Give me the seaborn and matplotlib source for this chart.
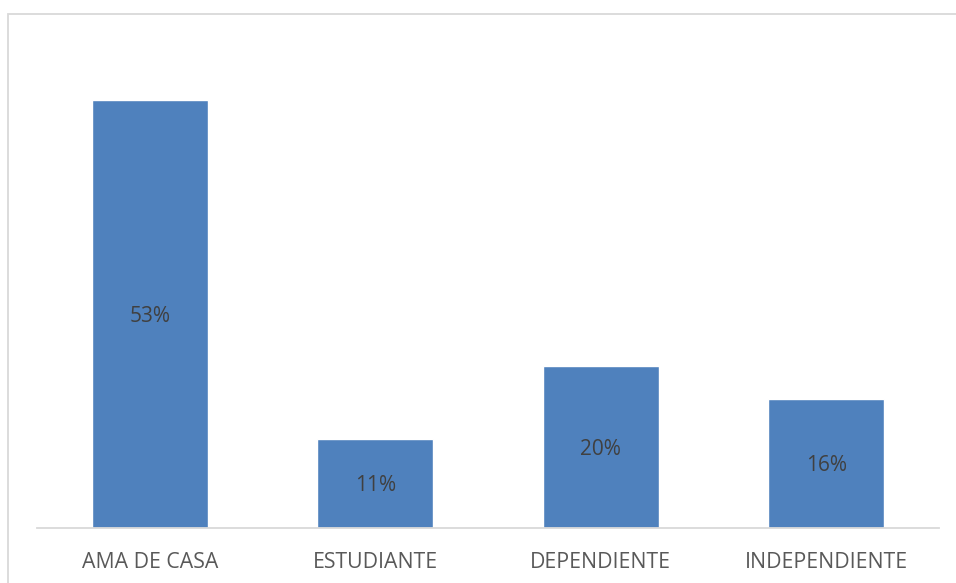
import matplotlib
matplotlib.use("Agg")
import matplotlib.pyplot as plt
import seaborn as sns
import pandas as pd
from matplotlib.patches import Rectangle

# Occupation shares (%)
categories = ["AMA DE CASA", "ESTUDIANTE", "DEPENDIENTE", "INDEPENDIENTE"]
values = [53, 11, 20, 16]
value_labels = ["53%", "11%", "20%", "16%"]

df = pd.DataFrame({"ocupacion": categories, "porcentaje": values})

sns.set_theme(style="white")
plt.rcParams["font.family"] = ["Open Sans", "DejaVu Sans"]

W, H = 956, 583
fig = plt.figure(figsize=(W / 100, H / 100), dpi=100)
ax = fig.add_axes([37 / W, 55 / H, (939 - 37) / W, (528 - 43) / H])

sns.barplot(data=df, x="ocupacion", y="porcentaje", color="#4F81BD",
            width=0.515, saturation=1, ax=ax)

ax.set_ylim(0, 60)
ax.set_xlim(-0.5, len(categories) - 0.5)
ax.set_xlabel("")
ax.set_ylabel("")
ax.set_yticks([])
for side in ("top", "right", "left"):
    ax.spines[side].set_visible(False)
ax.spines["bottom"].set_color("#d9d9d9")
ax.spines["bottom"].set_linewidth(1.3)
ax.tick_params(axis="x", length=0, pad=17, labelsize=15.3, colors="#595959")

# value labels centred inside each bar
for bar, lab in zip(ax.patches, value_labels):
    ax.text(bar.get_x() + bar.get_width() / 2, bar.get_height() / 2 - 0.3, lab,
            ha="center", va="center", fontsize=15, color="#404040")

# chart area frame
fig.patches.append(Rectangle((8 / W, -0.05), 1.1, 1.05 - 14 / H,
                             transform=fig.transFigure, fill=False,
                             edgecolor="#d9d9d9", linewidth=1.3))

fig.savefig("out.png", dpi=100, facecolor="white")
